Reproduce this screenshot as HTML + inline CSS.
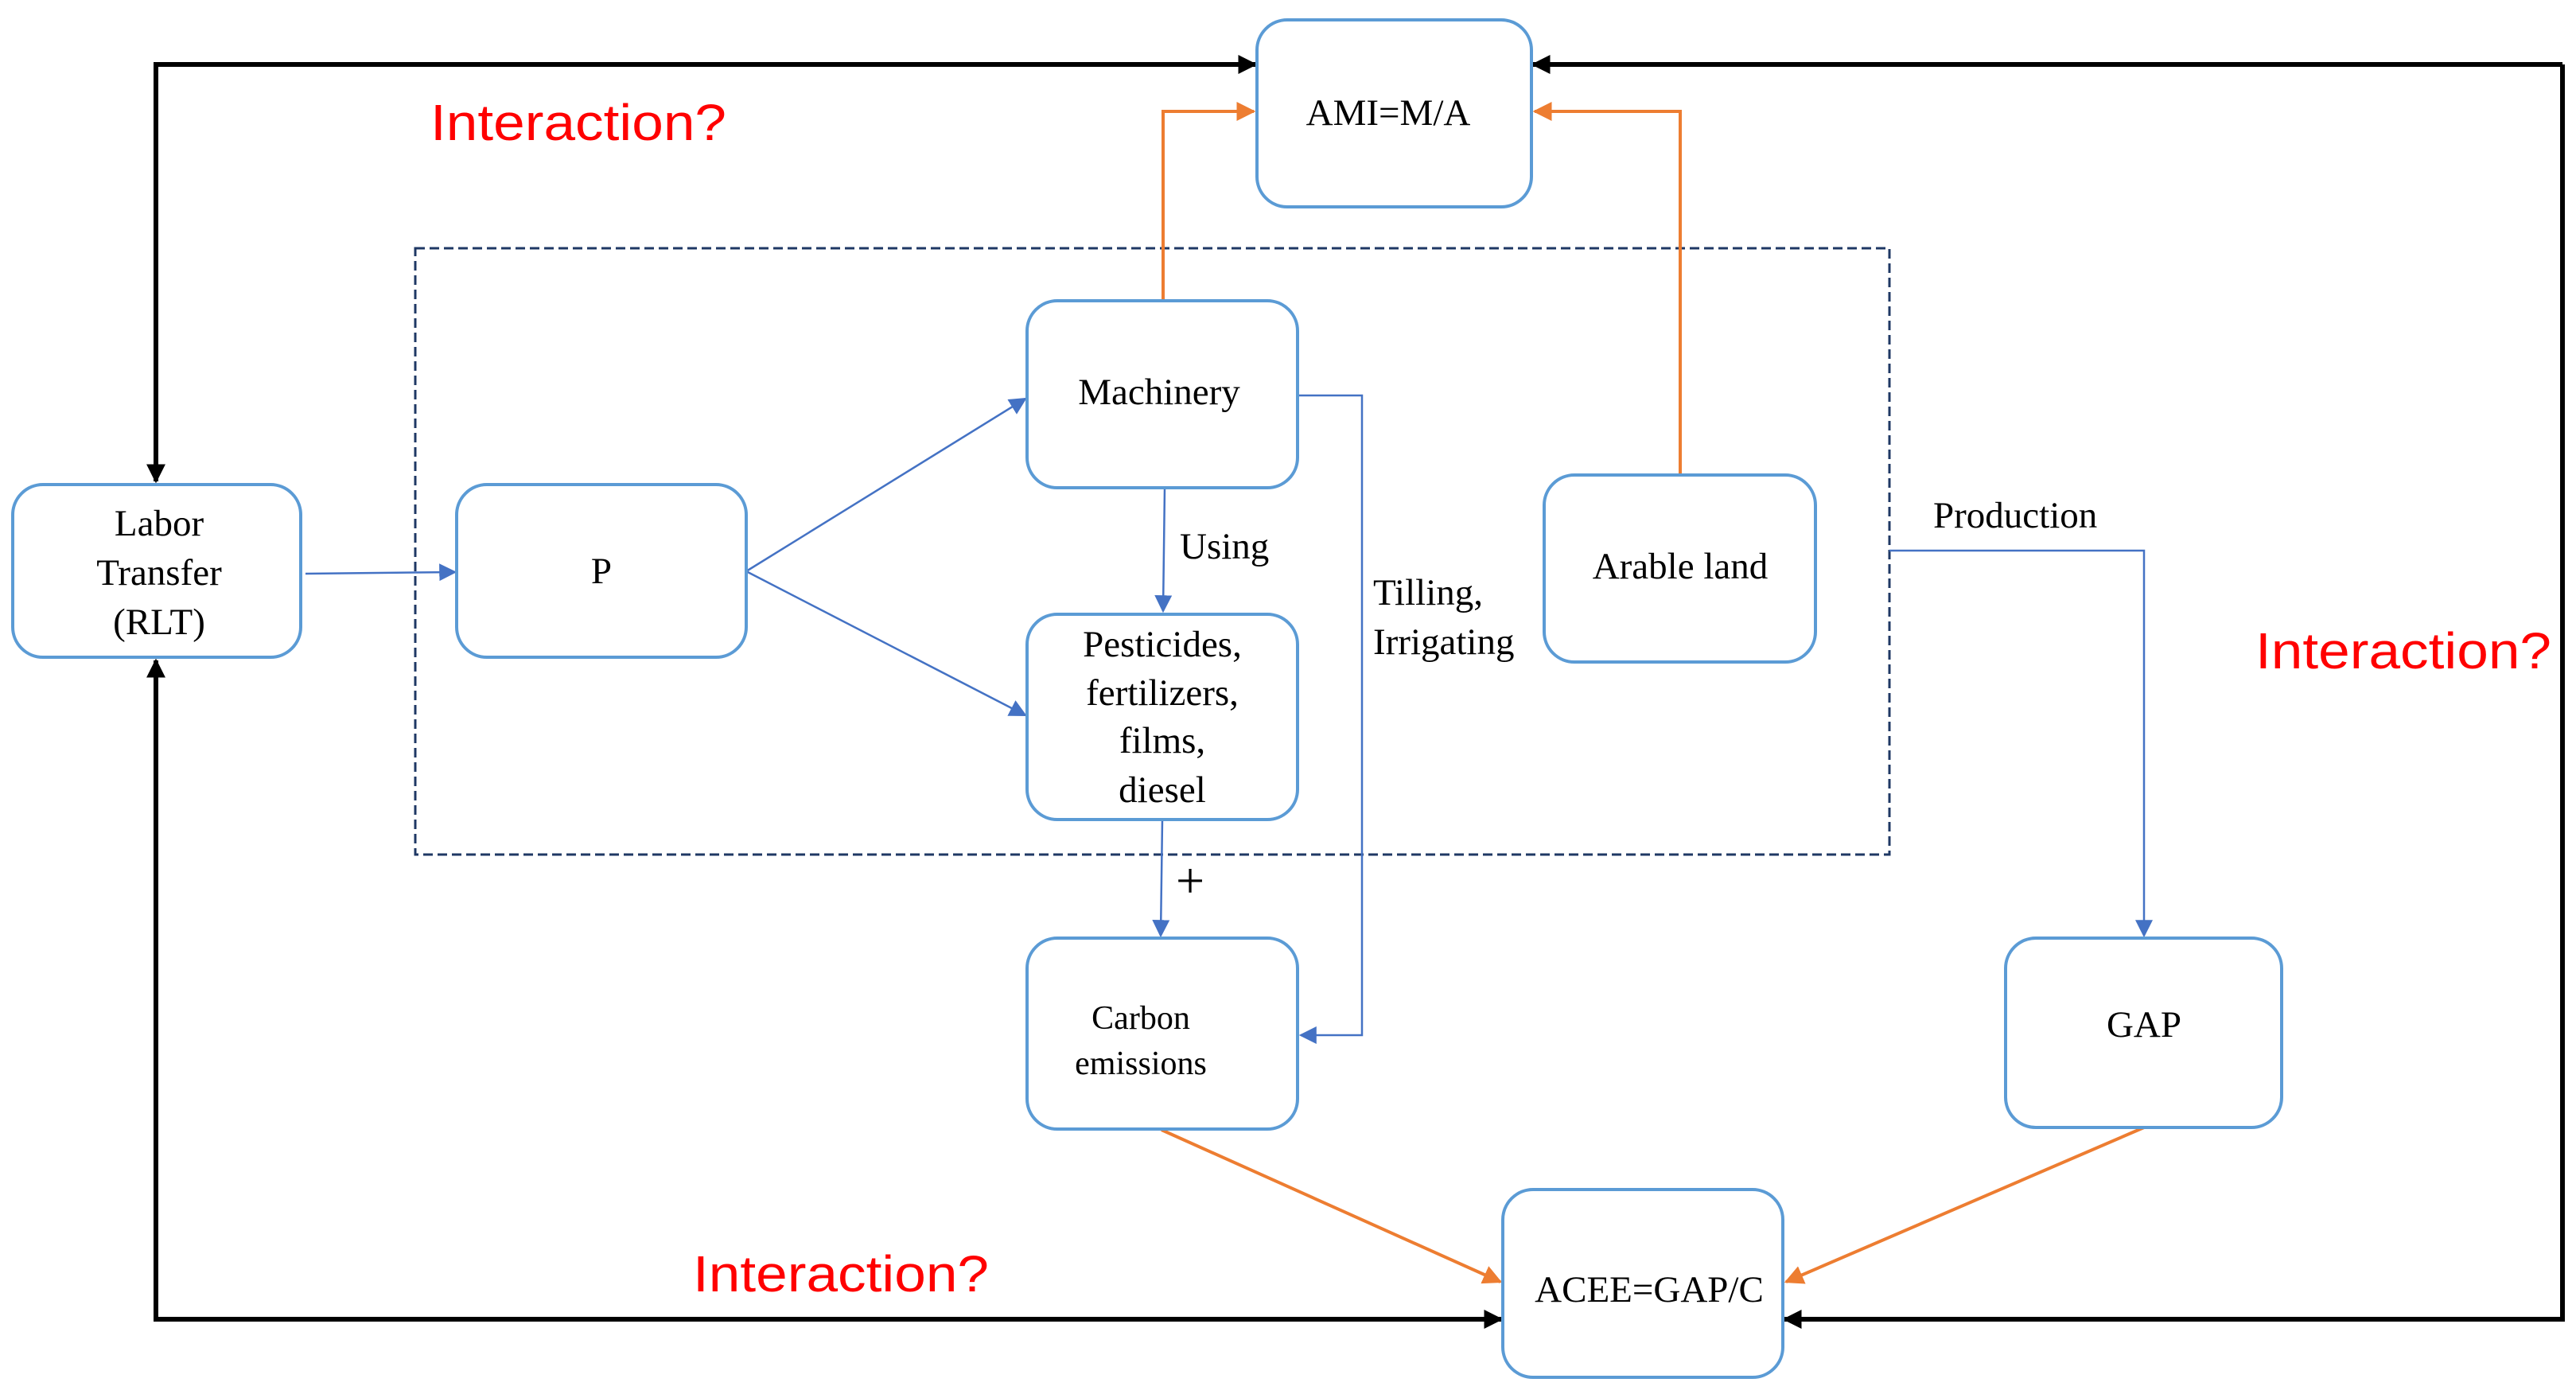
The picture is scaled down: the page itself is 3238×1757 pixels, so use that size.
<!DOCTYPE html>
<html><head><meta charset="utf-8"><style>body{margin:0;background:#fff}svg{display:block}</style></head><body>
<svg width="3238" height="1757" viewBox="0 0 3238 1757" xmlns="http://www.w3.org/2000/svg">
<defs>
<marker id="bl" viewBox="0 0 10 10" refX="9" refY="5" markerWidth="22" markerHeight="22" orient="auto" markerUnits="userSpaceOnUse"><path d="M0,0L10,5L0,10z" fill="#4472C4"/></marker>
<marker id="or" viewBox="0 0 10 10" refX="9" refY="5" markerWidth="24" markerHeight="24" orient="auto" markerUnits="userSpaceOnUse"><path d="M0,0L10,5L0,10z" fill="#ED7D31"/></marker>
<marker id="bkk" viewBox="0 0 10 10" refX="9" refY="5" markerWidth="24" markerHeight="24" orient="auto" markerUnits="userSpaceOnUse"><path d="M0,0L10,5L0,10z" fill="#000"/></marker>
</defs>
<rect x="522" y="312" width="1853" height="762" fill="none" stroke="#1F3864" stroke-width="3" stroke-dasharray="12,6"/>
<g fill="none" stroke="#000" stroke-width="6">
<polyline points="196,585 196,81 1578,81" marker-end="url(#bkk)"/>
<line x1="196" y1="81" x2="196" y2="605" marker-end="url(#bkk)"/>
<polyline points="3221,81 3221,1658 2243,1658" marker-end="url(#bkk)"/>
<line x1="3221" y1="81" x2="1927" y2="81" marker-end="url(#bkk)"/>
<polyline points="196,850 196,1658 1887,1658"/>
<line x1="196" y1="1658" x2="196" y2="830" marker-end="url(#bkk)"/>
<line x1="1000" y1="1658" x2="1887" y2="1658" marker-end="url(#bkk)"/>
</g>
<g fill="none" stroke="#ED7D31" stroke-width="4">
<polyline points="1462,378 1462,140 1576,140" marker-end="url(#or)"/>
<polyline points="2112,597 2112,140 1929,140" marker-end="url(#or)"/>
<line x1="1460" y1="1420" x2="1886" y2="1611" marker-end="url(#or)"/>
<line x1="2695" y1="1417" x2="2245" y2="1611" marker-end="url(#or)"/>
</g>
<g fill="none" stroke="#4472C4" stroke-width="2.5">
<line x1="384" y1="721" x2="572" y2="719" marker-end="url(#bl)"/>
<line x1="938" y1="718" x2="1289" y2="501" marker-end="url(#bl)"/>
<line x1="938" y1="718" x2="1289" y2="899" marker-end="url(#bl)"/>
<line x1="1464" y1="613" x2="1462" y2="768" marker-end="url(#bl)"/>
<polyline points="1631,497 1712,497 1712,1301 1635,1301" marker-end="url(#bl)"/>
<line x1="1461" y1="1030" x2="1459" y2="1176" marker-end="url(#bl)"/>
<polyline points="2375,692 2695,692 2695,1176" marker-end="url(#bl)"/>
</g>
<g fill="#fff" stroke="#5B9BD5" stroke-width="4">
<rect x="1580" y="25" width="345" height="235" rx="38"/>
<rect x="16" y="609" width="362" height="217" rx="38"/>
<rect x="574" y="609" width="364" height="217" rx="38"/>
<rect x="1291" y="378" width="340" height="235" rx="38"/>
<rect x="1291" y="772" width="340" height="258" rx="38"/>
<rect x="1291" y="1179" width="340" height="240" rx="38"/>
<rect x="1941" y="597" width="341" height="235" rx="38"/>
<rect x="2521" y="1179" width="347" height="238" rx="38"/>
<rect x="1889" y="1495" width="352" height="236" rx="38"/>
</g>
<g font-family="Liberation Serif, serif" font-size="47" fill="#000" text-anchor="middle">
<text x="1745" y="157">AMI=M/A</text>
<text x="200" y="673">Labor</text>
<text x="200" y="735">Transfer</text>
<text x="200" y="797">(RLT)</text>
<text x="756" y="733">P</text>
<text x="1457" y="508">Machinery</text>
<text x="1461" y="825">Pesticides,</text>
<text x="1461" y="886">fertilizers,</text>
<text x="1461" y="946">films,</text>
<text x="1461" y="1008">diesel</text>
<text x="1434" y="1293" font-size="42">Carbon</text>
<text x="1434" y="1350" font-size="42">emissions</text>
<text x="2112" y="727">Arable land</text>
<text x="2695" y="1303">GAP</text>
<text x="2073" y="1636">ACEE=GAP/C</text>
<g text-anchor="start">
<text x="1483" y="702">Using</text>
<text x="1726" y="760">Tilling,</text>
<text x="1726" y="822">Irrigating</text>
<text x="2430" y="663">Production</text>
<text x="1478" y="1128" font-size="64">+</text>
</g>
</g>
<g font-family="Liberation Sans, sans-serif" font-size="64" fill="#FF0000">
<text x="541" y="176" textLength="372" lengthAdjust="spacingAndGlyphs">Interaction?</text>
<text x="2835" y="840" textLength="372" lengthAdjust="spacingAndGlyphs">Interaction?</text>
<text x="871" y="1623" textLength="372" lengthAdjust="spacingAndGlyphs">Interaction?</text>
</g>
</svg>
</body></html>
